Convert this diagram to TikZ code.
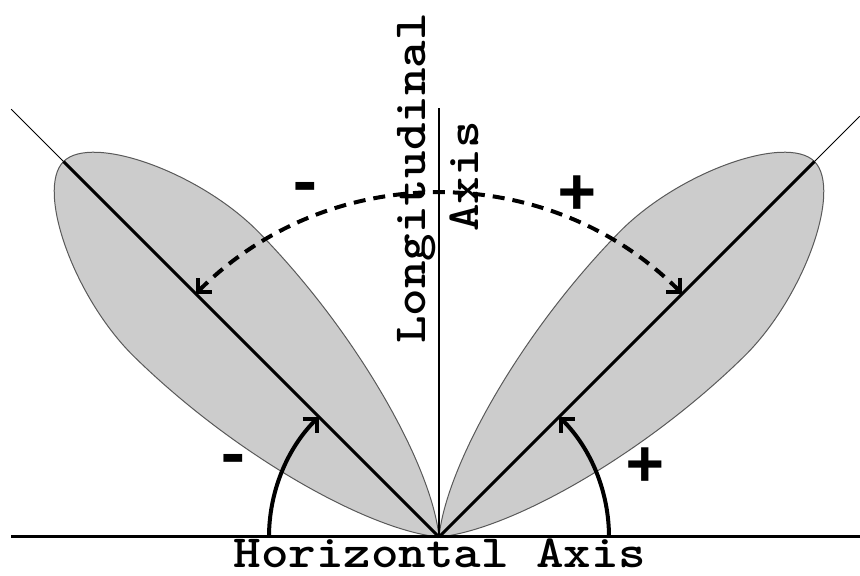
\documentclass[tikz,border=0pt]{standalone}
\usepackage{fontspec}
\newfontfamily\signfont{Liberation Mono}
\usetikzlibrary{arrows.meta}
\newcommand\widetext[1]{\scalebox{1.14}[1]{#1}}
\begin{document}
\begin{tikzpicture}[x=1pt,y=1pt,
  lobe/.style={fill=black!20, draw=black!65, line width=1pt},
  thinray/.style={line width=1pt},
  thickray/.style={line width=3pt},
  axisline/.style={line width=3pt},
  longline/.style={line width=2pt},
  solidarc/.style={line width=4pt, -{Straight Barb[length=10pt,width=20pt]}},
  dasharc/.style={line width=4pt, dash pattern=on 12pt off 8pt,
     {Straight Barb[length=10pt,width=20pt]}-{Straight Barb[length=10pt,width=20pt]}},
  lbl/.style={font=\ttfamily\bfseries\fontsize{46}{54}\selectfont, inner sep=0pt},
  sign/.style={font=\signfont\bfseries\fontsize{66}{66}\selectfont, inner sep=0pt}]
\useasboundingbox (0,0) rectangle (860,576);
\coordinate (O) at (439,39);
% lobes
\begin{scope}[shift={(O)}, rotate=135]
  \path[lobe] (0,0) .. controls (55,45) and (200,86) .. (340,88)
     .. controls (425,90) and (531,40) .. (531,0)
     .. controls (531,-40) and (425,-90) .. (340,-88)
     .. controls (200,-86) and (55,-45) .. (0,0) -- cycle;
\end{scope}
\begin{scope}[shift={(O)}, rotate=45]
  \path[lobe] (0,0) .. controls (55,45) and (200,86) .. (340,88)
     .. controls (425,90) and (531,40) .. (531,0)
     .. controls (531,-40) and (425,-90) .. (340,-88)
     .. controls (200,-86) and (55,-45) .. (0,0) -- cycle;
\end{scope}
% rays
\coordinate (Lin) at ([shift={(135:531)}]O);
\coordinate (Lout) at ([shift={(135:605)}]O);
\coordinate (Rin) at ([shift={(45:531)}]O);
\coordinate (Rout) at ([shift={(45:595)}]O);
\draw[thinray] (Lout) -- (Lin);
\draw[thickray] (Lin) -- (O);
\draw[thinray] (Rout) -- (Rin);
\draw[thickray] (Rin) -- (O);
% axes
\coordinate (Vtop) at (439,468);
\coordinate (Hl) at (11,39);
\coordinate (Hr) at (860,39);
\draw[longline] (O) -- (Vtop);
\draw[axisline] (Hl) -- (Hr);
% arcs
\coordinate (aL) at ([shift={(180:170)}]O);
\coordinate (aR) at ([shift={(0:170)}]O);
\coordinate (dR) at ([shift={(45:344)}]O);
\draw[solidarc] (aL) arc[start angle=180, end angle=135, radius=170];
\draw[solidarc] (aR) arc[start angle=0, end angle=45, radius=170];
\draw[dasharc] (dR) arc[start angle=45, end angle=135, radius=344];
% labels
\node[lbl, rotate=90, anchor=base] (lng) at (425,397.5) {\widetext{Longitudinal}};
\node[lbl, rotate=90, anchor=base] (lax) at (478,399.5) {\widetext{Axis}};
\node[lbl, anchor=base] (hax) at (440,9) {\widetext{Horizontal Axis}};
% signs
\node[sign] (m1) at (305,383) {-};
\node[sign] (p1) at (577,381) {+};
\node[sign] (m2) at (233,111) {-};
\node[sign] (p2) at (645,109) {+};
\end{tikzpicture}
\end{document}
